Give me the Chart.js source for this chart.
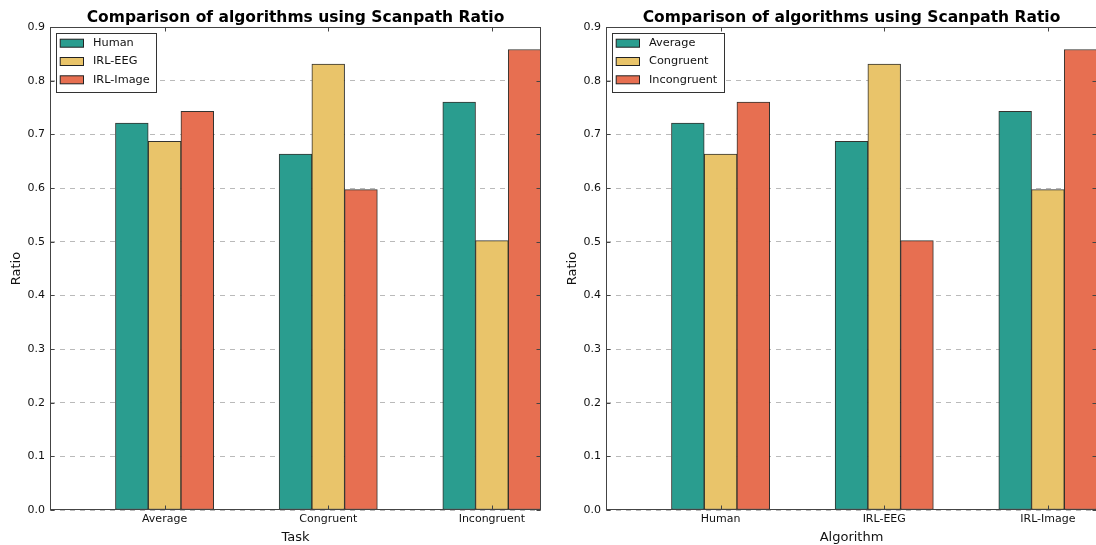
<!DOCTYPE html>
<html>
<head>
<meta charset="utf-8">
<script src="https://cdn.jsdelivr.net/npm/chart.js@4/dist/chart.umd.min.js"></script>
<style>
  html, body { margin: 0; padding: 0; background: #fff; }
  body { width: 1096px; height: 545px; overflow: hidden; position: relative; }
  .panel { position: absolute; top: 0; width: 548px; height: 545px; }
  #panelTask { left: 0; }
  #panelAlgo { left: 556px; }
</style>
</head>
<body>
<div class="panel" id="panelTask"><canvas id="byTask" width="548" height="545"></canvas></div>
<div class="panel" id="panelAlgo"><canvas id="byAlgo" width="548" height="545"></canvas></div>
<script>
// Scanpath ratio per algorithm, for each task condition
const tasks = ['Average', 'Congruent', 'Incongruent'];
const algorithms = ['Human', 'IRL-EEG', 'IRL-Image'];
const human = [0.721, 0.663, 0.760];
const irlEeg = [0.687, 0.831, 0.502];
const irlImage = [0.743, 0.597, 0.858];
const yTicks = [0.0, 0.1, 0.2, 0.3, 0.4, 0.5, 0.6, 0.7, 0.8, 0.9];

const colors = ['#2a9d8f', '#e9c46a', '#e76f51'];
const FONT = "'DejaVu Sans', sans-serif";
const TEXT = '#111';
const BAR_W = 0.2;

// Same numbers regrouped: one series per task, grouped by algorithm
const byAlgoSeries = tasks.map((t, j) => [human[j], irlEeg[j], irlImage[j]]);

function makeDatasets(labels, seriesList) {
  return labels.map((lab, k) => ({
    label: lab,
    data: seriesList[k].map((v, i) => ({ x: i + (k - 1) * BAR_W, y: v })),
    backgroundColor: colors[k],
    borderColor: 'rgba(30,30,25,0.9)',
    borderWidth: 1,
    borderSkipped: false,
    grouped: false,
    barPercentage: 1,
    categoryPercentage: 1
  }));
}

// Frame with inward tick marks plus a boxed legend in the upper-left corner
const framePlugin = {
  id: 'frame',
  afterDraw(chart) {
    const { ctx, chartArea: a, scales: { x, y } } = chart;
    ctx.save();
    ctx.strokeStyle = '#444';
    ctx.lineWidth = 1;
    const L = Math.round(a.left) + 0.5, R = Math.round(a.right) - 0.5;
    const T = Math.round(a.top) + 0.5, B = Math.round(a.bottom) - 0.5;
    ctx.strokeRect(L, T, R - L, B - T);
    ctx.beginPath();
    x.ticks.forEach(t => {
      const px = Math.round(x.getPixelForValue(t.value)) + 0.5;
      ctx.moveTo(px, B); ctx.lineTo(px, B - 4);
      ctx.moveTo(px, T); ctx.lineTo(px, T + 4);
    });
    y.ticks.forEach(t => {
      const py = Math.round(y.getPixelForValue(t.value)) + 0.5;
      ctx.moveTo(L, py); ctx.lineTo(L + 4, py);
      ctx.moveTo(R, py); ctx.lineTo(R - 4, py);
    });
    ctx.stroke();

    // legend
    const items = chart.data.datasets;
    ctx.font = '11.3px ' + FONT;
    const textW = Math.max(...items.map(d => ctx.measureText(d.label).width));
    const bx = a.left + 5.5, by = a.top + 6;
    const bw = 37.5 + textW + 6, bh = 58.5;
    ctx.fillStyle = '#fff';
    ctx.fillRect(bx, by, bw, bh);
    ctx.strokeStyle = '#333';
    ctx.strokeRect(Math.round(bx) + 0.5, Math.round(by) + 0.5, Math.round(bw), Math.round(bh));
    items.forEach((d, i) => {
      const cy = by + 10.2 + i * 18.3;
      ctx.fillStyle = d.backgroundColor;
      ctx.fillRect(bx + 4.7, cy - 4, 23.3, 8);
      ctx.strokeStyle = '#222';
      ctx.strokeRect(bx + 4.7, cy - 4, 23.3, 8);
      ctx.fillStyle = TEXT;
      ctx.textBaseline = 'middle';
      ctx.textAlign = 'left';
      ctx.fillText(d.label, bx + 37.5, cy);
    });
    ctx.restore();
  }
};

function makeChart(canvasId, groupLabels, seriesLabels, seriesList, xTitle) {
  return new Chart(document.getElementById(canvasId), {
    type: 'bar',
    data: { datasets: makeDatasets(seriesLabels, seriesList) },
    options: {
      responsive: false,
      animation: false,
      devicePixelRatio: 1,
      events: [],
      layout: { padding: { top: 0, left: 0, right: 7, bottom: 0 } },
      plugins: {
        legend: { display: false },
        tooltip: { enabled: false },
        title: {
          display: true,
          fullSize: false,
          text: 'Comparison of algorithms using Scanpath Ratio',
          color: '#000',
          font: { family: FONT, size: 15.5, weight: 'bold', lineHeight: 1 },
          padding: { top: 10.5, bottom: 1 }
        }
      },
      scales: {
        x: {
          type: 'linear',
          min: -0.7,
          max: 2.3,
          offset: false,
          afterBuildTicks: s => { s.ticks = groupLabels.map((g, i) => ({ value: i })); },
          afterFit: s => { s.height = 35; },
          ticks: {
            callback: v => groupLabels[v],
            color: TEXT,
            font: { family: FONT, size: 11 },
            padding: 3,
            maxRotation: 0,
            autoSkip: false
          },
          grid: { display: false, drawTicks: false },
          border: { display: false },
          title: {
            display: true,
            text: xTitle,
            color: TEXT,
            font: { family: FONT, size: 13 },
            padding: { top: 0, bottom: 0 }
          }
        },
        y: {
          min: 0,
          max: 0.9,
          z: 1,
          afterBuildTicks: s => { s.ticks = yTicks.map(v => ({ value: v })); },
          afterFit: s => { s.width = 50; },
          ticks: {
            callback: v => Number(v).toFixed(1),
            color: TEXT,
            font: { family: FONT, size: 11 },
            padding: 5
          },
          grid: { color: 'rgba(0,0,0,0.27)', lineWidth: 1, drawTicks: false },
          border: { display: false, dash: [5, 5] },
          title: {
            display: true,
            text: 'Ratio',
            color: TEXT,
            font: { family: FONT, size: 13 },
            padding: { top: 9, bottom: 4 }
          }
        }
      }
    },
    plugins: [framePlugin]
  });
}

makeChart('byTask', tasks, algorithms, [human, irlEeg, irlImage], 'Task');
makeChart('byAlgo', algorithms, tasks, byAlgoSeries, 'Algorithm');
</script>
</body>
</html>
